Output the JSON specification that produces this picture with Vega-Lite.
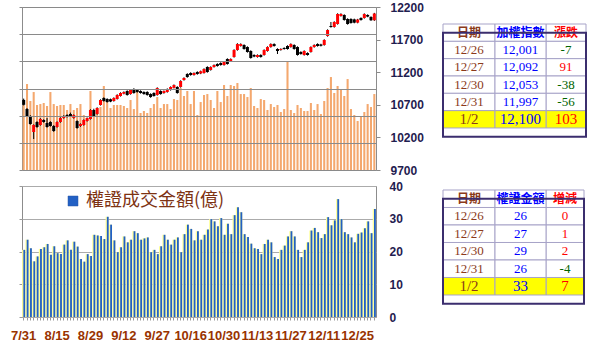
{
"$schema": "https://vega.github.io/schema/vega-lite/v6.json",
"padding": {"left": 10, "top": 0, "right": 0, "bottom": 0},
"background": "white",
"spacing": 2,
"config": {"view": {"stroke": "#8c8c8c", "strokeWidth": 1}, "axis": {"labelFont": "Liberation Sans", "labelOverlap": false}},
"datasets": {
"main": [
{"d":"7/31","o":10775,"h":10795,"l":10690,"c":10700,"vol":1196,"amt":20.5},
{"d":"8/1","o":10635,"h":10650,"l":10515,"c":10528,"vol":1582,"amt":23.6},
{"d":"8/2","o":10528,"h":10540,"l":10395,"c":10405,"vol":1270,"amt":21.0},
{"d":"8/5","o":10283,"h":10400,"l":10175,"c":10390,"vol":1435,"amt":17.0},
{"d":"8/6","o":10436,"h":10448,"l":10348,"c":10359,"vol":1196,"amt":18.5},
{"d":"8/7","o":10390,"h":10495,"l":10380,"c":10482,"vol":1214,"amt":20.8},
{"d":"8/8","o":10467,"h":10478,"l":10425,"c":10436,"vol":1233,"amt":21.3},
{"d":"8/12","o":10421,"h":10497,"l":10350,"c":10359,"vol":1178,"amt":22.3},
{"d":"8/13","o":10436,"h":10448,"l":10365,"c":10375,"vol":1435,"amt":19.0},
{"d":"8/14","o":10375,"h":10388,"l":10285,"c":10298,"vol":1214,"amt":21.6},
{"d":"8/15","o":10359,"h":10446,"l":10350,"c":10436,"vol":1178,"amt":19.5},
{"d":"8/16","o":10436,"h":10508,"l":10425,"c":10497,"vol":1196,"amt":19.2},
{"d":"8/19","o":10497,"h":10540,"l":10488,"c":10528,"vol":1196,"amt":22.1},
{"d":"8/20","o":10543,"h":10555,"l":10505,"c":10513,"vol":1104,"amt":23.4},
{"d":"8/21","o":10559,"h":10580,"l":10518,"c":10528,"vol":1214,"amt":20.5},
{"d":"8/22","o":10497,"h":10552,"l":10488,"c":10543,"vol":1104,"amt":23.0},
{"d":"8/23","o":10451,"h":10462,"l":10333,"c":10344,"vol":1141,"amt":21.5},
{"d":"8/26","o":10375,"h":10415,"l":10362,"c":10405,"vol":1214,"amt":17.7},
{"d":"8/27","o":10390,"h":10476,"l":10380,"c":10467,"vol":1012,"amt":16.9},
{"d":"8/28","o":10451,"h":10506,"l":10443,"c":10497,"vol":938,"amt":19.2},
{"d":"8/29","o":10482,"h":10632,"l":10474,"c":10620,"vol":1454,"amt":18.6},
{"d":"8/30","o":10620,"h":10640,"l":10518,"c":10528,"vol":1104,"amt":25.1},
{"d":"9/2","o":10559,"h":10662,"l":10548,"c":10651,"vol":1122,"amt":24.9},
{"d":"9/3","o":10697,"h":10785,"l":10688,"c":10774,"vol":1159,"amt":24.7},
{"d":"9/4","o":10804,"h":10815,"l":10748,"c":10758,"vol":1546,"amt":23.8},
{"d":"9/5","o":10789,"h":10800,"l":10733,"c":10743,"vol":1251,"amt":30.6},
{"d":"9/6","o":10785,"h":10795,"l":10740,"c":10750,"vol":1141,"amt":28.2},
{"d":"9/9","o":10758,"h":10815,"l":10748,"c":10804,"vol":1196,"amt":23.4},
{"d":"9/10","o":10789,"h":10862,"l":10780,"c":10850,"vol":1196,"amt":19.8},
{"d":"9/11","o":10835,"h":10892,"l":10826,"c":10881,"vol":1196,"amt":21.3},
{"d":"9/12","o":10870,"h":10906,"l":10860,"c":10896,"vol":1178,"amt":24.6},
{"d":"9/16","o":10911,"h":10922,"l":10840,"c":10850,"vol":1141,"amt":22.8},
{"d":"9/17","o":10865,"h":10938,"l":10856,"c":10927,"vol":1288,"amt":23.6},
{"d":"9/18","o":10942,"h":10955,"l":10870,"c":10881,"vol":1122,"amt":26.2},
{"d":"9/19","o":10927,"h":10938,"l":10886,"c":10896,"vol":1454,"amt":25.6},
{"d":"9/20","o":10911,"h":10922,"l":10871,"c":10881,"vol":1049,"amt":23.6},
{"d":"9/23","o":10896,"h":10907,"l":10855,"c":10865,"vol":1086,"amt":24.0},
{"d":"9/24","o":10896,"h":10908,"l":10840,"c":10850,"vol":1049,"amt":24.3},
{"d":"9/25","o":10865,"h":10876,"l":10808,"c":10819,"vol":1141,"amt":19.8},
{"d":"9/26","o":10881,"h":10892,"l":10825,"c":10835,"vol":1214,"amt":20.5},
{"d":"9/27","o":10850,"h":10968,"l":10840,"c":10957,"vol":1343,"amt":19.2},
{"d":"10/1","o":10911,"h":10922,"l":10855,"c":10865,"vol":1141,"amt":21.6},
{"d":"10/2","o":10881,"h":10921,"l":10870,"c":10911,"vol":1214,"amt":25.1},
{"d":"10/3","o":10896,"h":10952,"l":10886,"c":10942,"vol":1214,"amt":23.6},
{"d":"10/4","o":10927,"h":10983,"l":10917,"c":10973,"vol":1122,"amt":22.1},
{"d":"10/7","o":10960,"h":11013,"l":10950,"c":11003,"vol":1306,"amt":23.6},
{"d":"10/8","o":10973,"h":10985,"l":10870,"c":10881,"vol":1288,"amt":24.3},
{"d":"10/9","o":10973,"h":11076,"l":10963,"c":11065,"vol":1509,"amt":19.8},
{"d":"10/14","o":11080,"h":11122,"l":11070,"c":11111,"vol":1362,"amt":25.3},
{"d":"10/15","o":11172,"h":11184,"l":11115,"c":11126,"vol":1454,"amt":28.2},
{"d":"10/16","o":11188,"h":11199,"l":11146,"c":11157,"vol":1214,"amt":26.9},
{"d":"10/17","o":11157,"h":11198,"l":11147,"c":11188,"vol":1454,"amt":23.4},
{"d":"10/18","o":11203,"h":11214,"l":11161,"c":11172,"vol":1012,"amt":26.2},
{"d":"10/21","o":11180,"h":11225,"l":11170,"c":11215,"vol":1251,"amt":23.6},
{"d":"10/22","o":11188,"h":11260,"l":11178,"c":11249,"vol":1380,"amt":25.1},
{"d":"10/23","o":11280,"h":11291,"l":11192,"c":11203,"vol":1398,"amt":26.7},
{"d":"10/24","o":11234,"h":11290,"l":11224,"c":11280,"vol":1288,"amt":29.9},
{"d":"10/25","o":11280,"h":11320,"l":11270,"c":11310,"vol":1141,"amt":29.2},
{"d":"10/28","o":11326,"h":11337,"l":11285,"c":11295,"vol":1454,"amt":27.7},
{"d":"10/29","o":11341,"h":11352,"l":11300,"c":11310,"vol":1251,"amt":30.2},
{"d":"10/30","o":11310,"h":11366,"l":11300,"c":11356,"vol":1564,"amt":25.1},
{"d":"10/31","o":11402,"h":11413,"l":11316,"c":11326,"vol":1362,"amt":28.5},
{"d":"11/1","o":11372,"h":11412,"l":11362,"c":11402,"vol":1564,"amt":25.3},
{"d":"11/4","o":11433,"h":11552,"l":11423,"c":11540,"vol":1546,"amt":31.1},
{"d":"11/5","o":11540,"h":11645,"l":11530,"c":11632,"vol":1601,"amt":33.5},
{"d":"11/6","o":11602,"h":11643,"l":11592,"c":11632,"vol":1398,"amt":32.0},
{"d":"11/7","o":11617,"h":11628,"l":11546,"c":11556,"vol":1398,"amt":25.3},
{"d":"11/8","o":11586,"h":11597,"l":11500,"c":11510,"vol":1343,"amt":24.4},
{"d":"11/11","o":11525,"h":11536,"l":11408,"c":11418,"vol":1509,"amt":22.4},
{"d":"11/12","o":11464,"h":11475,"l":11430,"c":11440,"vol":1178,"amt":21.0},
{"d":"11/13","o":11433,"h":11474,"l":11423,"c":11464,"vol":1141,"amt":20.8},
{"d":"11/14","o":11464,"h":11475,"l":11423,"c":11433,"vol":1306,"amt":19.2},
{"d":"11/15","o":11464,"h":11551,"l":11454,"c":11540,"vol":1288,"amt":22.3},
{"d":"11/18","o":11525,"h":11597,"l":11515,"c":11586,"vol":1104,"amt":23.6},
{"d":"11/19","o":11586,"h":11643,"l":11576,"c":11632,"vol":1214,"amt":22.8},
{"d":"11/20","o":11632,"h":11643,"l":11592,"c":11602,"vol":1159,"amt":18.3},
{"d":"11/21","o":11556,"h":11567,"l":11479,"c":11525,"vol":1196,"amt":17.7},
{"d":"11/22","o":11540,"h":11567,"l":11530,"c":11556,"vol":1067,"amt":20.5},
{"d":"11/25","o":11571,"h":11582,"l":11546,"c":11556,"vol":1122,"amt":21.8},
{"d":"11/26","o":11602,"h":11613,"l":11546,"c":11556,"vol":2006,"amt":24.6},
{"d":"11/27","o":11586,"h":11643,"l":11576,"c":11632,"vol":1104,"amt":26.2},
{"d":"11/28","o":11617,"h":11628,"l":11546,"c":11556,"vol":1049,"amt":24.6},
{"d":"11/29","o":11586,"h":11597,"l":11454,"c":11464,"vol":1196,"amt":20.5},
{"d":"12/2","o":11510,"h":11521,"l":11469,"c":11479,"vol":1141,"amt":18.3},
{"d":"12/3","o":11464,"h":11536,"l":11454,"c":11525,"vol":1086,"amt":20.5},
{"d":"12/4","o":11494,"h":11505,"l":11454,"c":11464,"vol":1086,"amt":22.8},
{"d":"12/5","o":11510,"h":11597,"l":11500,"c":11586,"vol":1233,"amt":26.4},
{"d":"12/6","o":11586,"h":11628,"l":11576,"c":11617,"vol":1104,"amt":27.2},
{"d":"12/9","o":11632,"h":11643,"l":11592,"c":11602,"vol":1214,"amt":25.9},
{"d":"12/10","o":11625,"h":11636,"l":11595,"c":11605,"vol":1030,"amt":24.1},
{"d":"12/11","o":11617,"h":11705,"l":11607,"c":11694,"vol":1270,"amt":25.3},
{"d":"12/12","o":11755,"h":11858,"l":11745,"c":11847,"vol":1509,"amt":30.5},
{"d":"12/13","o":11909,"h":11970,"l":11883,"c":11893,"vol":1711,"amt":28.0},
{"d":"12/16","o":11893,"h":11981,"l":11883,"c":11970,"vol":1417,"amt":29.5},
{"d":"12/17","o":11939,"h":12104,"l":11929,"c":12093,"vol":1546,"amt":36.0},
{"d":"12/18","o":12062,"h":12104,"l":12052,"c":12093,"vol":1490,"amt":29.9},
{"d":"12/19","o":12077,"h":12088,"l":11991,"c":12001,"vol":1362,"amt":25.9},
{"d":"12/20","o":12016,"h":12027,"l":11929,"c":11939,"vol":1674,"amt":25.3},
{"d":"12/23","o":12016,"h":12027,"l":11945,"c":11955,"vol":1122,"amt":24.3},
{"d":"12/24","o":12010,"h":12021,"l":11950,"c":11960,"vol":1012,"amt":22.8},
{"d":"12/25","o":11960,"h":12018,"l":11950,"c":12008,"vol":902,"amt":25.4},
{"d":"12/26","o":12031,"h":12042,"l":11991,"c":12001,"vol":994,"amt":25.8},
{"d":"12/27","o":12031,"h":12103,"l":12021,"c":12092,"vol":1067,"amt":27.1},
{"d":"12/30","o":12077,"h":12088,"l":12043,"c":12053,"vol":1214,"amt":29.2},
{"d":"12/31","o":12047,"h":12058,"l":11987,"c":11997,"vol":1159,"amt":25.6},
{"d":"1/2","o":11997,"h":12110,"l":11987,"c":12100,"vol":1398,"amt":33.0}
],
"t1": [
{"date":"日期","val":"加權指數","chg":"漲跌","hdr":true},
{"date":"12/26","val":"12,001","chg":-7},
{"date":"12/27","val":"12,092","chg":91},
{"date":"12/30","val":"12,053","chg":-38},
{"date":"12/31","val":"11,997","chg":-56},
{"date":"1/2","val":"12,100","chg":103}
],
"t2": [
{"date":"日期","val":"權證金額","chg":"增減","hdr":true},
{"date":"12/26","val":26,"chg":0},
{"date":"12/27","val":27,"chg":1},
{"date":"12/30","val":29,"chg":2},
{"date":"12/31","val":26,"chg":-4},
{"date":"1/2","val":33,"chg":7}
]
},
"vconcat": [
{"hconcat": [
{
"width": 354, "height": 163,
"data": {"name": "main"},
"encoding": {"x": {"field": "d", "type": "ordinal", "sort": null, "scale": {"paddingInner": 0, "paddingOuter": 0}, "axis": null}},
"layer": [
{"mark": {"type": "bar", "color": "#f4a86e", "width": {"band": 0.62}},
 "encoding": {"y": {"field": "vol", "type": "quantitative", "scale": {"domain": [0, 3000], "nice": false},
   "axis": {"orient": "left", "values": [0,500,1000,1500,2000,2500,3000], "labels": false, "title": null, "grid": true, "gridColor": "#8a8a8a", "tickSize": 3, "tickColor": "#8a8a8a", "domain": false, "zindex": 1}}}},
{"mark": {"type": "rule", "color": "#000000", "strokeWidth": 1},
 "encoding": {"y": {"field": "l", "type": "quantitative", "scale": {"domain": [9700, 12200], "nice": false, "zero": false},
   "axis": {"orient": "right", "values": [9700,10200,10700,11200,11700,12200], "format": "d", "title": null, "grid": false, "tickSize": 4, "tickColor": "#8a8a8a", "domain": false, "labelFont": "Liberation Sans", "labelFontWeight": "bold", "labelFontSize": 12, "labelColor": "#1f2050", "labelPadding": 10, "labelOverlap": false, "labelFlush": false}},
  "y2": {"field": "h"}}},
{"mark": {"type": "bar", "width": {"band": 0.9}},
 "encoding": {"y": {"field": "o", "type": "quantitative", "scale": {"domain": [9700, 12200], "nice": false, "zero": false}, "axis": null},
  "y2": {"field": "c"},
  "color": {"condition": {"test": "datum.c >= datum.o", "value": "#ff0000"}, "value": "#000000"}}}
],
"resolve": {"scale": {"y": "independent"}, "axis": {"y": "independent"}}
},
{
"width": 143, "height": 140,
"view": {"stroke": null},
"data": {"name": "t1"},
"resolve": {"scale": {"x": "independent"}},
"layer": [
{"encoding": {
  "x": {"datum": "A", "type": "nominal", "scale": {"type": "band", "domain": ["A"], "paddingInner": 0, "paddingOuter": 0.875, "align": 0}, "axis": null},
  "y": {"field": "date", "type": "nominal", "sort": null, "scale": {"domain": ["日期","12/26","12/27","12/30","12/31","1/2","end"], "paddingInner": 0, "paddingOuter": 0.54, "align": 0.909}, "axis": null}},
 "layer": [
  {"mark": {"type": "rect", "stroke": "#a7a3c8", "strokeWidth": 1}, "encoding": {"fill": {"condition": {"test": "datum.date == '1/2'", "value": "#ffff00"}, "value": "#ffffff"}}},
  {"transform": [{"filter": "datum.hdr"}], "mark": {"type": "text", "font": "Noto Sans CJK TC", "fontWeight": "bold", "fontSize": 12, "color": "#8b3a1a"}, "encoding": {"text": {"field": "date"}}},
  {"transform": [{"filter": "!datum.hdr"}], "mark": {"type": "text", "font": "Liberation Serif", "color": "#8b3a1a"}, "encoding": {"text": {"field": "date"}, "size": {"condition": {"test": "datum.date == '1/2'", "value": 15}, "value": 13}}}
 ]},
{"encoding": {
  "x": {"datum": "A", "type": "nominal", "scale": {"type": "band", "domain": ["A"], "paddingInner": 0.2235, "paddingOuter": 1, "align": 1}, "axis": null},
  "y": {"field": "date", "type": "nominal", "sort": null, "scale": {"domain": ["日期","12/26","12/27","12/30","12/31","1/2","end"], "paddingInner": 0, "paddingOuter": 0.54, "align": 0.909}, "axis": null}},
 "layer": [
  {"mark": {"type": "rect", "stroke": "#a7a3c8", "strokeWidth": 1}, "encoding": {"fill": {"condition": {"test": "datum.date == '1/2'", "value": "#ffff00"}, "value": "#ffffff"}}},
  {"transform": [{"filter": "datum.hdr"}], "mark": {"type": "text", "font": "Noto Sans CJK TC", "fontWeight": "bold", "fontSize": 12, "color": "#ff0000"}, "encoding": {"text": {"field": "chg"}}},
  {"transform": [{"filter": "!datum.hdr"}], "mark": {"type": "text", "font": "Liberation Serif"}, "encoding": {"text": {"field": "chg", "type": "nominal"}, "color": {"condition": {"test": "datum.chg < 0", "value": "#006400"}, "value": "#ff0000"}, "size": {"condition": {"test": "datum.date == '1/2'", "value": 15}, "value": 13}}}
 ]},
{"encoding": {
  "x": {"datum": "A", "type": "nominal", "scale": {"type": "band", "domain": ["A"], "paddingInner": 0, "paddingOuter": 0.902, "align": 0.5652}, "axis": null},
  "y": {"field": "date", "type": "nominal", "sort": null, "scale": {"domain": ["日期","12/26","12/27","12/30","12/31","1/2","end"], "paddingInner": 0, "paddingOuter": 0.54, "align": 0.909}, "axis": null}},
 "layer": [
  {"mark": {"type": "rect", "stroke": "#a7a3c8", "strokeWidth": 1}, "encoding": {"fill": {"condition": {"test": "datum.date == '1/2'", "value": "#ffff00"}, "value": "#ffffff"}}},
  {"transform": [{"filter": "datum.hdr"}], "mark": {"type": "text", "font": "Noto Sans CJK TC", "fontWeight": "bold", "fontSize": 12, "color": "#0000ff"}, "encoding": {"text": {"field": "val"}}},
  {"transform": [{"filter": "!datum.hdr"}], "mark": {"type": "text", "font": "Liberation Serif", "color": "#0000ff"}, "encoding": {"text": {"field": "val"}, "size": {"condition": {"test": "datum.date == '1/2'", "value": 15}, "value": 13}}}
 ]},
{"transform": [{"filter": "datum.hdr"}],
 "mark": {"type": "rect", "fillOpacity": 0, "stroke": "#3b2e6e", "strokeWidth": 2},
 "encoding": {"y": {"datum": "日期", "type": "nominal", "scale": {"domain": ["日期","12/26","12/27","12/30","12/31","1/2","end"], "paddingInner": 0, "paddingOuter": 0.54, "align": 0.909}, "axis": null}, "y2": {"datum": "end"}}}
]
}
], "spacing": 67, "bounds": "flush"},
{"hconcat": [
{
"width": 354, "height": 131,
"data": {"name": "main"},
"encoding": {"x": {"field": "d", "type": "ordinal", "sort": null, "scale": {"paddingInner": 0, "paddingOuter": 0},
  "axis": {"title": null, "labelExpr": "indexof(['7/31','8/15','8/29','9/12','9/27','10/16','10/30','11/13','11/27','12/11','12/25'], datum.value) >= 0 ? datum.value : ''", "labelAngle": 0, "labelOverlap": false, "labelFont": "Liberation Sans", "labelFontWeight": "bold", "labelFontSize": 13, "labelColor": "#993300", "tickSize": 3, "tickColor": "#9a9a9a", "domain": false, "labelPadding": 9}}},
"layer": [
{"mark": {"type": "bar", "color": "#ffff99", "width": {"band": 0.95}},
 "encoding": {"y": {"field": "amt", "type": "quantitative", "scale": {"domain": [0, 40], "nice": false},
   "axis": {"orient": "left", "values": [0,10,20,30,40], "labels": false, "title": null, "grid": true, "gridColor": "#ababab", "tickSize": 3, "tickColor": "#9a9a9a", "domain": false}}}},
{"mark": {"type": "bar", "width": {"band": 0.55}, "xOffset": 0.6},
 "encoding": {"y": {"field": "amt", "type": "quantitative", "scale": {"domain": [0, 40], "nice": false},
   "axis": {"orient": "right", "values": [0,10,20,30,40], "title": null, "grid": false, "ticks": false, "domain": false, "labelFont": "Liberation Sans", "labelFontWeight": "bold", "labelFontSize": 12, "labelColor": "#1f2050", "labelPadding": 13, "labelOverlap": false, "labelFlush": false}},
  "color": {"datum": "權證成交金額(億)", "type": "nominal", "scale": {"range": ["#2260c4"]},
   "legend": {"orient": "none", "legendX": 42, "legendY": 185, "title": null, "symbolType": "square", "symbolSize": 100, "symbolStrokeColor": "#2b57a6", "symbolStrokeWidth": 0.5, "labelFont": "Noto Sans CJK TC", "labelFontSize": 18, "labelColor": "#7d3212", "labelOffset": 4, "padding": 0, "labelLimit": 300}}}}
],
"resolve": {"axis": {"y": "independent"}}
},
{
"width": 141, "height": 131,
"view": {"stroke": null},
"data": {"name": "t2"},
"resolve": {"scale": {"x": "independent"}},
"layer": [
{"encoding": {
  "x": {"datum": "A", "type": "nominal", "scale": {"type": "band", "domain": ["A"], "paddingInner": 0, "paddingOuter": 0.8558, "align": 0}, "axis": null},
  "y": {"field": "date", "type": "nominal", "sort": null, "scale": {"domain": ["日期","12/26","12/27","12/30","12/31","1/2","end"], "paddingInner": 0, "paddingOuter": 0.243, "align": 0.47}, "axis": null}},
 "layer": [
  {"mark": {"type": "rect", "stroke": "#a7a3c8", "strokeWidth": 1}, "encoding": {"fill": {"condition": {"test": "datum.date == '1/2'", "value": "#ffff00"}, "value": "#ffffff"}}},
  {"transform": [{"filter": "datum.hdr"}], "mark": {"type": "text", "font": "Noto Sans CJK TC", "fontWeight": "bold", "fontSize": 12, "color": "#8b3a1a"}, "encoding": {"text": {"field": "date"}}},
  {"transform": [{"filter": "!datum.hdr"}], "mark": {"type": "text", "font": "Liberation Serif", "color": "#8b3a1a"}, "encoding": {"text": {"field": "date"}, "size": {"condition": {"test": "datum.date == '1/2'", "value": 15}, "value": 13}}}
 ]},
{"encoding": {
  "x": {"datum": "A", "type": "nominal", "scale": {"type": "band", "domain": ["A"], "paddingInner": 0.2622, "paddingOuter": 1, "align": 1}, "axis": null},
  "y": {"field": "date", "type": "nominal", "sort": null, "scale": {"domain": ["日期","12/26","12/27","12/30","12/31","1/2","end"], "paddingInner": 0, "paddingOuter": 0.243, "align": 0.47}, "axis": null}},
 "layer": [
  {"mark": {"type": "rect", "stroke": "#a7a3c8", "strokeWidth": 1}, "encoding": {"fill": {"condition": {"test": "datum.date == '1/2'", "value": "#ffff00"}, "value": "#ffffff"}}},
  {"transform": [{"filter": "datum.hdr"}], "mark": {"type": "text", "font": "Noto Sans CJK TC", "fontWeight": "bold", "fontSize": 12, "color": "#ff0000"}, "encoding": {"text": {"field": "chg"}}},
  {"transform": [{"filter": "!datum.hdr"}], "mark": {"type": "text", "font": "Liberation Serif"}, "encoding": {"text": {"field": "chg", "type": "nominal"}, "color": {"condition": {"test": "datum.chg < 0", "value": "#006400"}, "value": "#ff0000"}, "size": {"condition": {"test": "datum.date == '1/2'", "value": 15}, "value": 13}}}
 ]},
{"encoding": {
  "x": {"datum": "A", "type": "nominal", "scale": {"type": "band", "domain": ["A"], "paddingInner": 0, "paddingOuter": 0.8824, "align": 0.5778}, "axis": null},
  "y": {"field": "date", "type": "nominal", "sort": null, "scale": {"domain": ["日期","12/26","12/27","12/30","12/31","1/2","end"], "paddingInner": 0, "paddingOuter": 0.243, "align": 0.47}, "axis": null}},
 "layer": [
  {"mark": {"type": "rect", "stroke": "#a7a3c8", "strokeWidth": 1}, "encoding": {"fill": {"condition": {"test": "datum.date == '1/2'", "value": "#ffff00"}, "value": "#ffffff"}}},
  {"transform": [{"filter": "datum.hdr"}], "mark": {"type": "text", "font": "Noto Sans CJK TC", "fontWeight": "bold", "fontSize": 12, "color": "#0000ff"}, "encoding": {"text": {"field": "val"}}},
  {"transform": [{"filter": "!datum.hdr"}], "mark": {"type": "text", "font": "Liberation Serif", "color": "#0000ff"}, "encoding": {"text": {"field": "val", "type": "nominal"}, "size": {"condition": {"test": "datum.date == '1/2'", "value": 15}, "value": 13}}}
 ]},
{"transform": [{"filter": "datum.hdr"}],
 "mark": {"type": "rect", "fillOpacity": 0, "stroke": "#3b2e6e", "strokeWidth": 2},
 "encoding": {"y": {"datum": "日期", "type": "nominal", "scale": {"domain": ["日期","12/26","12/27","12/30","12/31","1/2","end"], "paddingInner": 0, "paddingOuter": 0.243, "align": 0.47}, "axis": null}, "y2": {"datum": "end"}}}
]
}
], "spacing": 67, "bounds": "flush"}
]
}
